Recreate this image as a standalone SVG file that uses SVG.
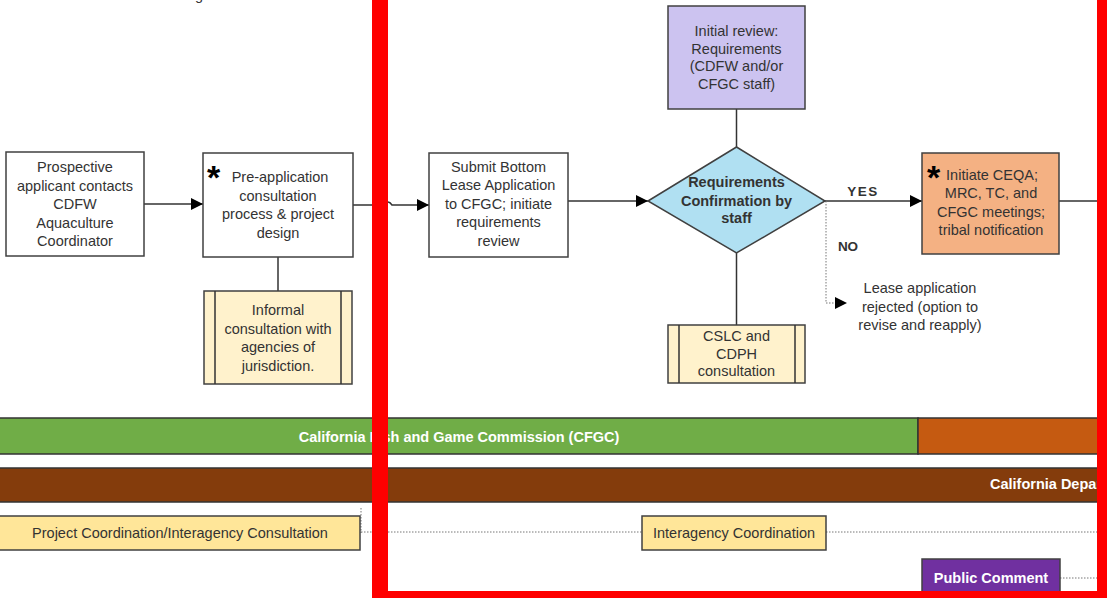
<svg xmlns="http://www.w3.org/2000/svg" width="1107" height="598" viewBox="0 0 1107 598">
<style>
.box{stroke:#404040;stroke-width:1.5}
.t{font-family:"Liberation Sans",Arial,sans-serif;font-size:14.5px;fill:#333;text-anchor:middle}
.b{font-weight:bold}
.w{fill:#fff;font-weight:bold}
.ast{font-family:"Liberation Sans",Arial,sans-serif;font-size:34px;font-weight:bold;fill:#000}
.ln{stroke:#333;stroke-width:1.5;fill:none}
.dot{stroke:#777;stroke-width:1;stroke-dasharray:1.5 1.5;fill:none}
.bar{stroke:#333;stroke-width:1.5}
</style>
<defs>
<marker id="arr" markerUnits="userSpaceOnUse" markerWidth="13" markerHeight="12" refX="12" refY="6" orient="auto">
<path d="M0,0 L12,6 L0,12 Z" fill="#000"/>
</marker>
</defs>
<rect width="1107" height="598" fill="#fff"/>
<text class="t" x="199" y="0">g</text>

<g id="connectors">
<path class="ln" d="M144,204 H203" marker-end="url(#arr)"/>
<path class="ln" d="M353,205 H384 Q388,199 392,205 H429" marker-end="url(#arr)"/>
<path class="ln" d="M568,201 H648" marker-end="url(#arr)"/>
<path class="ln" d="M278,257 V291"/>
<path class="ln" d="M736.5,109 V147"/>
<path class="ln" d="M736.5,253 V325"/>
<path class="ln" d="M825,201 H922" marker-end="url(#arr)"/>
<path class="dot" d="M826,201 V303 H835"/>
<path d="M835,297 L847,303 L835,309 Z" fill="#000"/>
<path class="ln" d="M1059,201 H1107"/>
<path class="dot" d="M361,508 V533"/>
<path class="dot" d="M361,532 H642"/>
<path class="dot" d="M826,532 H1107"/>
<path class="dot" d="M1060,578 H1107"/>
<text class="t b" x="863" y="196" style="font-size:13.5px;letter-spacing:1.5px">YES</text>
<text class="t b" x="848" y="251" style="font-size:13.5px">NO</text>
</g>

<g id="n1">
<rect class="box" x="6" y="152" width="138" height="104" fill="#fff"/>
<text class="t" x="75"><tspan x="75" y="172">Prospective</tspan><tspan x="75" y="190.5">applicant contacts</tspan><tspan x="75" y="209">CDFW</tspan><tspan x="75" y="227.5">Aquaculture</tspan><tspan x="75" y="246">Coordinator</tspan></text>
</g>

<g id="n2">
<rect class="box" x="203" y="153" width="150" height="104" fill="#fff"/>
<text class="ast" x="207" y="189">*</text>
<text class="t" x="278"><tspan x="280" y="182">Pre-application</tspan><tspan x="278" y="200.5">consultation</tspan><tspan x="278" y="219">process &amp; project</tspan><tspan x="278" y="237.5">design</tspan></text>
</g>

<g id="n3">
<rect class="box" x="204" y="291" width="148" height="93" fill="#FFF2CC"/>
<path class="ln" d="M215,291 V384 M341,291 V384"/>
<text class="t" x="278"><tspan x="278" y="315">Informal</tspan><tspan x="278" y="333.5">consultation with</tspan><tspan x="278" y="352">agencies of</tspan><tspan x="278" y="370.5">jurisdiction.</tspan></text>
</g>

<g id="n4">
<rect class="box" x="429" y="153" width="139" height="104" fill="#fff"/>
<text class="t" x="498.5"><tspan x="498.5" y="171.5">Submit Bottom</tspan><tspan x="498.5" y="190">Lease Application</tspan><tspan x="498.5" y="208.5">to CFGC; initiate</tspan><tspan x="498.5" y="227">requirements</tspan><tspan x="498.5" y="245.5">review</tspan></text>
</g>

<g id="n5">
<rect class="box" x="668" y="6" width="137" height="103" fill="#CCC3F0"/>
<text class="t" x="736.5"><tspan x="736.5" y="36">Initial review:</tspan><tspan x="736.5" y="53.5">Requirements</tspan><tspan x="736.5" y="71">(CDFW and/or</tspan><tspan x="736.5" y="88.5">CFGC staff)</tspan></text>
</g>

<g id="n6">
<path class="box" d="M648,201 L736.5,147 L825,201 L736.5,253 Z" fill="#B0E0F2"/>
<text class="t b" x="736.5"><tspan x="736.5" y="187">Requirements</tspan><tspan x="736.5" y="205.5">Confirmation by</tspan><tspan x="736.5" y="223">staff</tspan></text>
</g>

<g id="n7">
<rect class="box" x="668" y="325" width="137" height="58" fill="#FFF2CC"/>
<path class="ln" d="M679,325 V383 M795,325 V383"/>
<text class="t" x="736.5"><tspan x="736.5" y="341">CSLC and</tspan><tspan x="736.5" y="358.5">CDPH</tspan><tspan x="736.5" y="376">consultation</tspan></text>
</g>

<g id="n8">
<text class="t" x="920"><tspan x="920" y="293">Lease application</tspan><tspan x="920" y="311.5">rejected (option to</tspan><tspan x="920" y="330">revise and reapply)</tspan></text>
</g>

<g id="n9">
<rect class="box" x="922" y="153" width="137" height="101" fill="#F4B183"/>
<text class="ast" x="927" y="189">*</text>
<text class="t" x="991"><tspan x="992" y="180">Initiate CEQA;</tspan><tspan x="991" y="198">MRC, TC, and</tspan><tspan x="991" y="216.5">CFGC meetings;</tspan><tspan x="991" y="234.5">tribal notification</tspan></text>
</g>

<g id="bar-cfgc">
<rect class="bar" x="-2" y="418" width="920" height="36" fill="#70AD47"/>
<rect class="bar" x="918" y="418" width="200" height="36" fill="#C55A11"/>
<text class="t w" x="459" y="442">California Fish and Game Commission (CFGC)</text>
</g>

<g id="bar-cdfw">
<rect class="bar" x="-2" y="468" width="1120" height="34" fill="#843C0C"/>
<text class="t w" x="990" y="489" style="text-anchor:start">California Department of Fish and Wildlife (CDFW)</text>
</g>

<g id="n10">
<rect class="box" x="-2" y="516" width="362" height="34" fill="#FFE699"/>
<text class="t" x="180" y="538">Project Coordination/Interagency Consultation</text>
</g>

<g id="n11">
<rect class="box" x="642" y="516" width="184" height="34" fill="#FFE699"/>
<text class="t" x="734" y="538">Interagency Coordination</text>
</g>

<g id="n12">
<rect class="box" x="922" y="559" width="138" height="45" fill="#7030A0"/>
<text class="t w" x="991" y="583">Public Comment</text>
</g>

<path d="M380,-20 V599 H1105 V-20" fill="none" stroke="#FF0000" stroke-width="16"/>
</svg>
